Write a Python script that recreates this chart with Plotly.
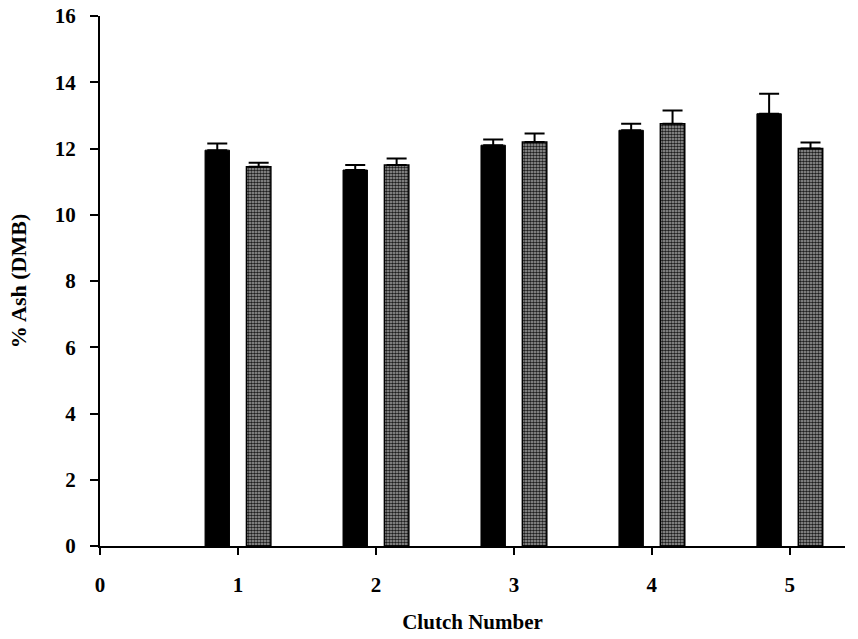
import plotly.graph_objects as go

clutch = [1, 2, 3, 4, 5]
series_a = [11.95, 11.35, 12.1, 12.55, 13.05]
err_a = [0.2, 0.15, 0.17, 0.2, 0.6]
series_b = [11.45, 11.5, 12.2, 12.75, 12.0]
err_b = [0.12, 0.2, 0.25, 0.4, 0.18]
x_ticks = [0, 1, 2, 3, 4, 5]
y_ticks = [0, 2, 4, 6, 8, 10, 12, 14, 16]

font_family = "Liberation Serif, Times New Roman, serif"

fig = go.Figure()
fig.add_trace(go.Bar(
    x=clutch, y=series_a,
    marker=dict(color="black", line=dict(color="black", width=1)),
    error_y=dict(type="data", array=err_a, symmetric=False, arrayminus=[0]*5,
                 color="black", thickness=2, width=10),
    showlegend=False,
))
fig.add_trace(go.Bar(
    x=clutch, y=series_b,
    marker=dict(color="#7a7a7a", line=dict(color="black", width=1.5),
                pattern=dict(shape=".", fgcolor="#1e1e1e", bgcolor="#a8a8a8",
                             size=3, solidity=0.6, fillmode="replace")),
    error_y=dict(type="data", array=err_b, symmetric=False, arrayminus=[0]*5,
                 color="black", thickness=2, width=10),
    showlegend=False,
))

fig.update_layout(
    width=858, height=639,
    margin=dict(l=100, r=13, t=16, b=93),
    paper_bgcolor="white", plot_bgcolor="white",
    barmode="group", bargap=0.4, bargroupgap=0.41,
    font=dict(family=font_family, color="black", size=21),
    xaxis=dict(
        range=[0, 5.4], tickvals=x_ticks, ticktext=[str(v) for v in x_ticks],
        showline=True, linecolor="black", linewidth=1.5, automargin=False,
        ticks="outside", ticklen=7, tickwidth=1.5, tickcolor="black",
        ticklabelstandoff=12, showgrid=False, zeroline=False,
        tickfont=dict(family=font_family, size=21, color="black", weight="bold"),
        title=dict(text="<b>Clutch Number</b>", standoff=18,
                   font=dict(family=font_family, size=21, color="black")),
    ),
    yaxis=dict(
        range=[0, 16], tickvals=y_ticks, ticktext=[str(v) for v in y_ticks],
        showline=True, linecolor="black", linewidth=2, automargin=False,
        ticks="outside", ticklen=8, tickwidth=1.5, tickcolor="black",
        ticklabelstandoff=10, showgrid=False, zeroline=False,
        tickfont=dict(family=font_family, size=21, color="black", weight="bold"),
        title=dict(text="<b>% Ash (DMB)</b>", standoff=22,
                   font=dict(family=font_family, size=22, color="black")),
    ),
)

fig.write_html("out.html", config={"displayModeBar": False},
               post_script="document.body.style.margin='0';")
